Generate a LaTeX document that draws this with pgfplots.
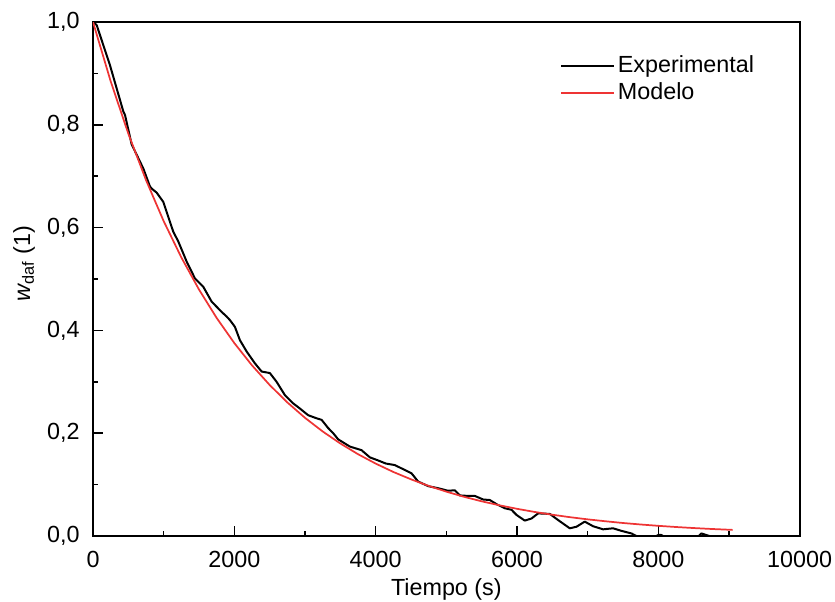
\documentclass[border=0pt]{standalone}
\usepackage{fontspec}
\setmainfont{Liberation Sans}
\usepackage{pgfplots}
\pgfplotsset{compat=1.18}
\definecolor{modelred}{RGB}{238,52,52}
\begin{document}
\fontsize{17.5pt}{20.5pt}\selectfont
\begin{tikzpicture}
\useasboundingbox (-69.75pt,-48.75pt) rectangle (556.5pt,402pt);
\begin{axis}[
  at={(0,0)}, anchor=south west,
  scale only axis, width=530pt, height=385.5pt,
  xmin=0, xmax=10000, ymin=0, ymax=1,
  xtick={0,2000,4000,6000,8000,10000},
  minor xtick={1000,3000,5000,7000,9000},
  ytick={0,0.2,0.4,0.6,0.8,1},
  minor ytick={0.1,0.3,0.5,0.7,0.9},
  tick align=inside, xtick pos=bottom, ytick pos=left,
  major tick length=7.5pt, minor tick length=4pt,
  every tick/.style={black, line width=1.2pt},
  axis line style={line width=1.5pt},
  /pgf/number format/assume math mode=true,
  xticklabel style={/pgf/number format/1000 sep={}, yshift=-5pt},
  yticklabel style={xshift=-4pt, /pgf/number format/.cd, fixed, fixed zerofill, precision=1, use comma},
  scaled x ticks=false,
  xlabel={Tiempo (s)},
  xlabel style={at={(axis description cs:0.5,-0.1031)}, anchor=center},
  ylabel={{\itshape w}\textsubscript{daf} (1)},
  ylabel style={at={(axis description cs:-0.0976,0.53)}, anchor=center},
  legend style={draw=none, fill=none, at={(0.655,0.945)}, anchor=north west, row sep=1pt, font=\fontsize{17.5pt}{20.5pt}\selectfont},
  legend cell align=left,
  legend image code/.code={\draw[#1] (0cm,0cm) -- (1.4cm,0cm);},
  clip=true,
]
\addplot[black, line width=1.5pt, line join=round] coordinates {
(0,1.000) (52,0.994) (240,0.916) (429,0.826) (453,0.819) (547,0.762) (712,0.715)
(806,0.680) (830,0.676) (901,0.668) (995,0.650) (1065,0.621) (1136,0.592)
(1207,0.573) (1325,0.534) (1443,0.501) (1560,0.485) (1679,0.456) (1820,0.436)
(1891,0.427) (1938,0.420) (2008,0.407) (2079,0.381) (2174,0.359) (2291,0.336)
(2386,0.320) (2503,0.317) (2598,0.300) (2716,0.274) (2833,0.258) (2928,0.248)
(3045,0.235) (3164,0.229) (3235,0.226) (3328,0.210) (3399,0.200) (3470,0.188)
(3635,0.174) (3800,0.167) (3918,0.153) (4035,0.147) (4144,0.141) (4271,0.138)
(4389,0.130) (4507,0.122) (4601,0.106) (4743,0.097) (4884,0.093) (5025,0.088)
(5120,0.089) (5191,0.079) (5308,0.078) (5403,0.078) (5521,0.071) (5615,0.070)
(5710,0.062) (5827,0.054) (5922,0.051) (5993,0.041) (6110,0.030) (6205,0.034)
(6299,0.044) (6464,0.043) (6582,0.031) (6747,0.015) (6841,0.018) (6959,0.028)
(7077,0.019) (7218,0.013) (7360,0.015) (7478,0.010) (7619,0.005) (7690,0.000)
(7900,-0.005) (8000,0.002) (8043,0.002) (8100,-0.003) (8550,-0.003) (8609,0.005)
(8700,0.001) (8800,-0.003)
};
\addlegendentry{Experimental}
\addplot[modelred, line width=1.3pt] coordinates {
(0,1.0000) (250,0.8847) (500,0.7827) (750,0.6925) (1000,0.6126) (1250,0.5420)
(1500,0.4795) (1750,0.4242) (2000,0.3753) (2250,0.3320) (2500,0.2938)
(2750,0.2599) (3000,0.2299) (3250,0.2034) (3500,0.1800) (3750,0.1592)
(4000,0.1409) (4250,0.1246) (4500,0.1103) (4750,0.0975) (5000,0.0863)
(5250,0.0763) (5500,0.0675) (5750,0.0598) (6000,0.0529) (6250,0.0468)
(6500,0.0414) (6750,0.0366) (7000,0.0324) (7250,0.0287) (7500,0.0253)
(7750,0.0224) (8000,0.0198) (8250,0.0175) (8500,0.0155) (8750,0.0137)
(9000,0.0122) (9050,0.0119)
};
\addlegendentry{Modelo}
\end{axis}
\end{tikzpicture}
\end{document}
